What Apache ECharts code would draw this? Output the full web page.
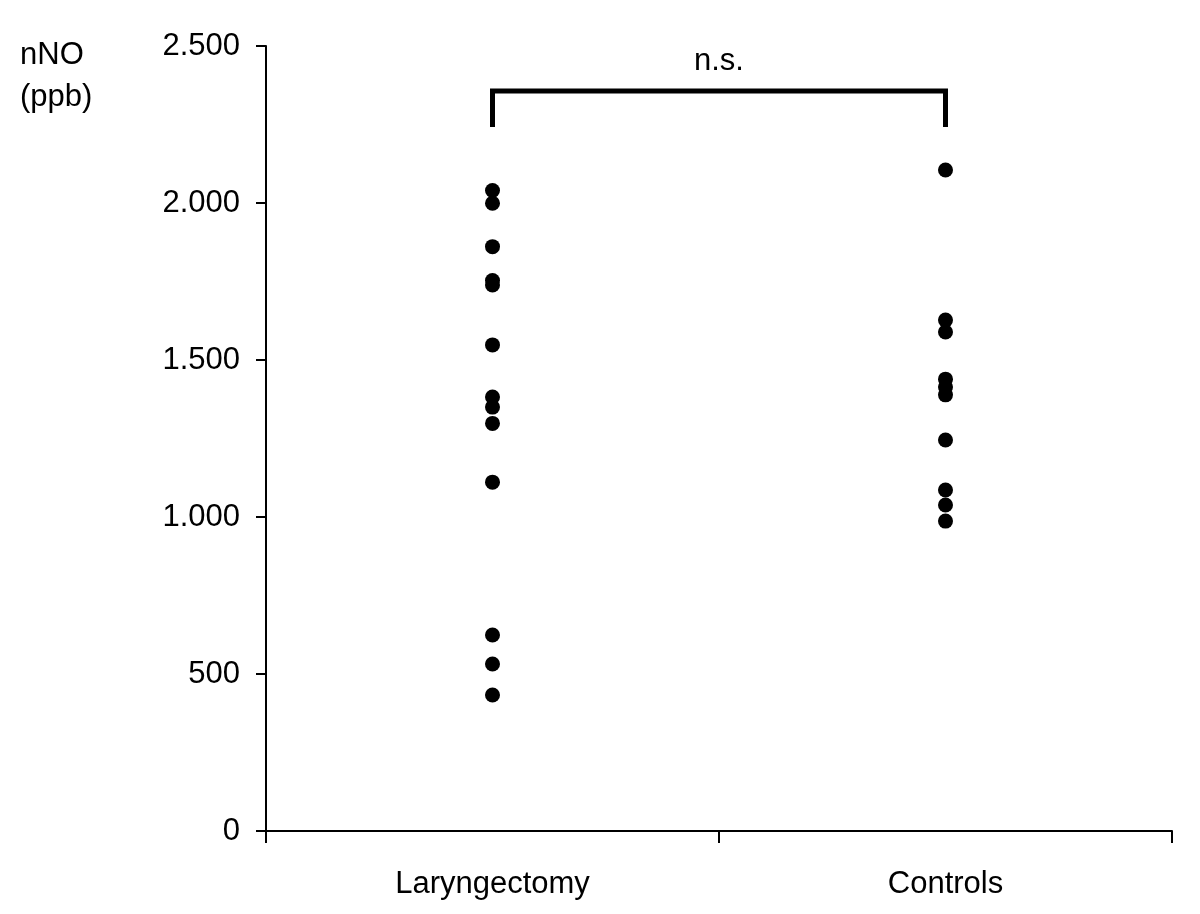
<!DOCTYPE html>
<html>
<head>
<meta charset="utf-8">
<script src="https://cdn.jsdelivr.net/npm/echarts@6/dist/echarts.min.js"></script>
<style>
  html, body { margin: 0; padding: 0; background: #fff; }
  #ec { width: 1200px; height: 914px; }
</style>
</head>
<body>
<div id="ec"></div>
<script>
// groups on the x axis
var groups = ['Laryngectomy', 'Controls']
// nNO (ppb) per subject
var laryngectomy = [2040, 1999, 1861, 1753, 1739, 1548, 1382, 1350, 1298, 1111, 624, 532, 433]
var controls = [2105, 1627, 1589, 1439, 1414, 1389, 1245, 1086, 1038, 987]
// y ticks
var yMin = 0
var yMax = 2500
var yStep = 500
// significance bracket (value levels)
var bracketTop = 2357
var bracketFoot = 2250
var bracketText = 'n.s.'

var font = '"Liberation Sans", Arial, sans-serif'

function fmt(v) {
  // thousands separator as a dot, like the original
  return String(v).replace(/\B(?=(\d{3})+(?!\d))/g, '.')
}

var chart = echarts.init(document.getElementById('ec'))
chart.setOption({
  animation: false,
  backgroundColor: '#fff',
  textStyle: { fontFamily: font, color: '#000' },
  grid: {
    left: 266,
    right: 28,
    top: 46,
    bottom: 83
  },
  xAxis: {
    type: 'category',
    data: groups,
    boundaryGap: true,
    axisLine: { show: true, lineStyle: { color: '#000', width: 2 } },
    axisTick: { show: true, length: 12, alignWithLabel: false, lineStyle: { color: '#000', width: 2 } },
    axisLabel: { color: '#000', fontSize: 31, fontFamily: font, margin: 38 },
    splitLine: { show: false }
  },
  yAxis: {
    type: 'value',
    min: yMin,
    max: yMax,
    interval: yStep,
    axisLine: { show: true, lineStyle: { color: '#000', width: 2 } },
    axisTick: { show: true, length: 10, lineStyle: { color: '#000', width: 2 } },
    axisLabel: {
      color: '#000', fontSize: 31, fontFamily: font, margin: 26,
      formatter: function (v) { return fmt(v) }
    },
    splitLine: { show: false }
  },
  graphic: [
    {
      type: 'text',
      left: 20,
      top: 34,
      style: {
        text: 'nNO\n(ppb)',
        font: '31px ' + font,
        lineHeight: 42,
        fill: '#000'
      }
    },
    {
      type: 'text',
      left: 694,
      top: 46,
      style: {
        text: bracketText,
        font: '31px ' + font,
        fill: '#000'
      }
    }
  ],
  series: [
    {
      name: 'bracket',
      type: 'line',
      data: [
        [groups[0], bracketFoot],
        [groups[0], bracketTop],
        [groups[1], bracketTop],
        [groups[1], bracketFoot]
      ],
      showSymbol: false,
      symbol: 'none',
      lineStyle: { color: '#000', width: 5, cap: 'square', join: 'miter' },
      silent: true
    },
    {
      name: groups[0],
      type: 'scatter',
      data: laryngectomy.map(function (v) { return [groups[0], v] }),
      symbol: 'circle',
      symbolSize: 15,
      itemStyle: { color: '#000', opacity: 1 }
    },
    {
      name: groups[1],
      type: 'scatter',
      data: controls.map(function (v) { return [groups[1], v] }),
      symbol: 'circle',
      symbolSize: 15,
      itemStyle: { color: '#000', opacity: 1 }
    }
  ]
})
window.addEventListener('resize', function () {
  chart.resize()
})
</script>
</body>
</html>
